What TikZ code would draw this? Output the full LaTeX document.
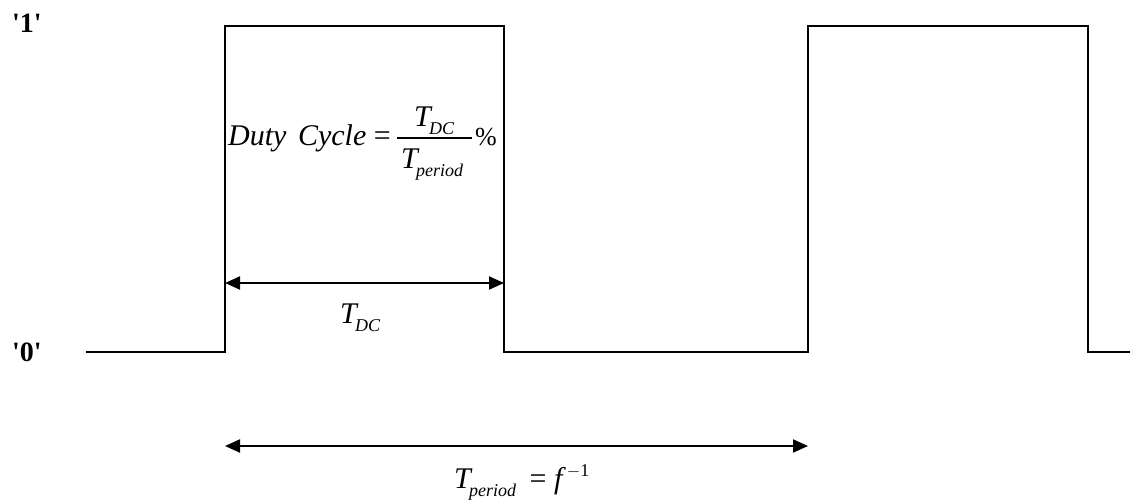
\documentclass[tikz,border=0pt]{standalone}
\usepackage{fontspec}
\setmainfont{Liberation Serif}
\usetikzlibrary{arrows.meta}
\newcommand{\Tsb}[1]{\textit{T}\kern-3.5pt\raisebox{-8pt}{\fontsize{18}{18}\selectfont\itshape #1}}
\tikzset{
  wave/.style={line width=2pt, line join=miter},
  dim/.style={line width=2pt, {Triangle[length=15pt,width=13pt]}-{Triangle[length=15pt,width=13pt]}},
  lvl/.style={font=\fontsize{28}{28}\selectfont\bfseries, inner sep=0pt, anchor=base west},
  eq/.style={font=\fontsize{30}{30}\selectfont, inner sep=0pt, anchor=base west}
}
\begin{document}
\begin{tikzpicture}[x=1pt,y=-1pt]
\useasboundingbox (0,0) rectangle (1130,500);
% level labels
\node[lvl] (one) at (12,33) {\textquotesingle1\textquotesingle};
\node[lvl] (zero) at (12,361) {\textquotesingle0\textquotesingle};
% waveform
\coordinate (w0) at (86,352);
\coordinate (r1) at (225,352);
\coordinate (f1) at (504,352);
\coordinate (r2) at (808,352);
\coordinate (f2) at (1088,352);
\coordinate (w9) at (1130,352);
\draw[wave] (w0) -- (r1) -- (225,26) -- (504,26) -- (f1) -- (r2) -- (808,26) -- (1088,26) -- (f2) -- (w9);
% duty cycle formula
\node[eq] (dc) at (228,146) {\textit{Duty\hspace{4pt} Cycle} =};
\node[eq] (num) at (414,127) {\Tsb{DC}};
\node[eq] (den) at (401,168) {\Tsb{period}};
\coordinate (barL) at (397,138);
\coordinate (barR) at (472,138);
\draw[line width=1.5pt] (barL) -- (barR);
\node[eq] (pct) at (475,146) {\fontsize{26}{26}\selectfont\%};
% T_DC dimension
\coordinate (a1) at (225,283);
\coordinate (a2) at (504,283);
\draw[dim] (a1) -- (a2);
\node[eq] (tdc) at (340,323) {\Tsb{DC}};
% T_period dimension
\coordinate (b1) at (225,446);
\coordinate (b2) at (808,446);
\draw[dim] (b1) -- (b2);
\node[eq] (tp) at (454,488) {\Tsb{period}\hspace{6pt} = \textit{f}\kern1pt\raisebox{12pt}{\fontsize{18}{18}\selectfont $-$1}};
\end{tikzpicture}
\end{document}
